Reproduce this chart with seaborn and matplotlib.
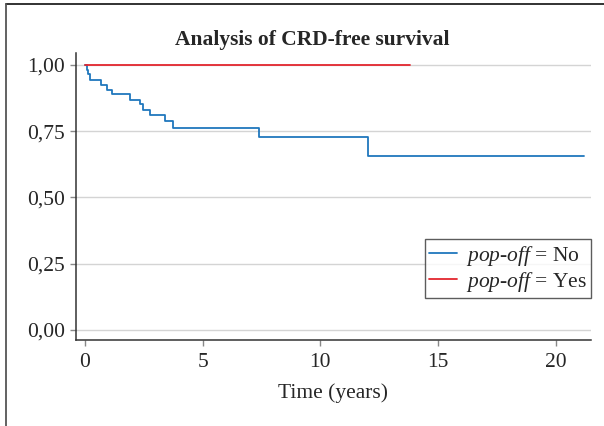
import numpy as np
import pandas as pd
import matplotlib
matplotlib.use("Agg")
import matplotlib.pyplot as plt
from matplotlib.ticker import FuncFormatter
from matplotlib.lines import Line2D
import seaborn as sns

# ── Kaplan-Meier step data ────────────────────────────────────
times_no = [0.0, 0.09, 0.14, 0.21, 0.67, 0.94, 1.16, 1.93, 2.35, 2.48,
            2.78, 3.42, 3.73, 7.38, 12.01, 21.2]
surv_no  = [1.000, 0.981, 0.966, 0.943, 0.925, 0.905, 0.891, 0.869, 0.851,
            0.830, 0.810, 0.788, 0.762, 0.727, 0.655, 0.655]
times_yes = [0.0, 13.8]
surv_yes  = [1.000, 1.000]

groups      = ["No", "Yes"]
colors      = ["#2077bd", "#e3262e"]
x_ticks     = [0, 5, 10, 15, 20]
y_ticks     = [0.00, 0.25, 0.50, 0.75, 1.00]
title       = "Analysis of CRD-free survival"
x_label     = "Time (years)"

df = pd.concat([
    pd.DataFrame({"time": times_no, "surv": surv_no, "group": groups[0]}),
    pd.DataFrame({"time": times_yes, "surv": surv_yes, "group": groups[1]}),
], ignore_index=True)

sns.set_style("white")
plt.rcParams["font.family"] = ["Liberation Serif", "DejaVu Serif"]
plt.rcParams["mathtext.fontset"] = "custom"
plt.rcParams["mathtext.rm"] = "Liberation Serif"
plt.rcParams["mathtext.it"] = "Liberation Serif:italic"

FS = 15.5

fig = plt.figure(figsize=(6.04, 4.26), dpi=100)
ax = fig.add_axes([76 / 604, 1 - 340 / 426, (591 - 76) / 604, (340 - 53) / 426])

sns.lineplot(data=df, x="time", y="surv", hue="group", hue_order=groups,
             palette=colors, estimator=None, drawstyle="steps-post",
             linewidth=1.3, ax=ax, legend=False)

ax.set_xlim(-0.38, 21.5)
ax.set_ylim(-0.038, 1.045)
ax.set_xticks(x_ticks)
ax.set_yticks(y_ticks)
ax.yaxis.set_major_formatter(FuncFormatter(lambda v, p: f"{v:.2f}".replace(".", ",")))
ax.grid(axis="y", color="#d4d4d4", linewidth=1.0)
ax.set_axisbelow(True)

for s in ["top", "right"]:
    ax.spines[s].set_visible(False)
for s in ["left", "bottom"]:
    ax.spines[s].set_color("#333333")
    ax.spines[s].set_linewidth(1.1)

ax.tick_params(axis="both", which="major", labelsize=FS, length=4.5,
               width=1.0, color="#888888", pad=3.5, left=True, bottom=True)
ax.tick_params(axis="x", pad=5)
ax.set_xlabel(x_label, fontsize=FS, labelpad=8)
ax.set_ylabel("")

# legend with italic "pop-off"
handles = [Line2D([0], [0], color=c, linewidth=1.3) for c in colors]
labels = [rf"$\it{{pop}}$-$\it{{off}}$ = {g}" for g in groups]
leg = ax.legend(handles, labels, loc="lower right", bbox_to_anchor=(1.0, 0.146),
                borderaxespad=0, fontsize=FS, frameon=True, fancybox=False,
                handlelength=1.3, handletextpad=0.4, borderpad=0.2,
                labelspacing=0.1)
leg.get_frame().set_edgecolor("#333333")
leg.get_frame().set_linewidth(1.0)

fig.text(312 / 604, 1 - 40 / 426, title, ha="center", va="center",
         fontsize=FS, fontweight="bold")

# panel border: top and left only
fig.add_artist(Line2D([6 / 604, 1.0], [1 - 4 / 426] * 2, color="#222222",
                      linewidth=1.3, transform=fig.transFigure))
fig.add_artist(Line2D([6 / 604] * 2, [0.0, 1 - 4 / 426], color="#555555",
                      linewidth=1.3, transform=fig.transFigure))

fig.savefig("out.png", dpi=100)
